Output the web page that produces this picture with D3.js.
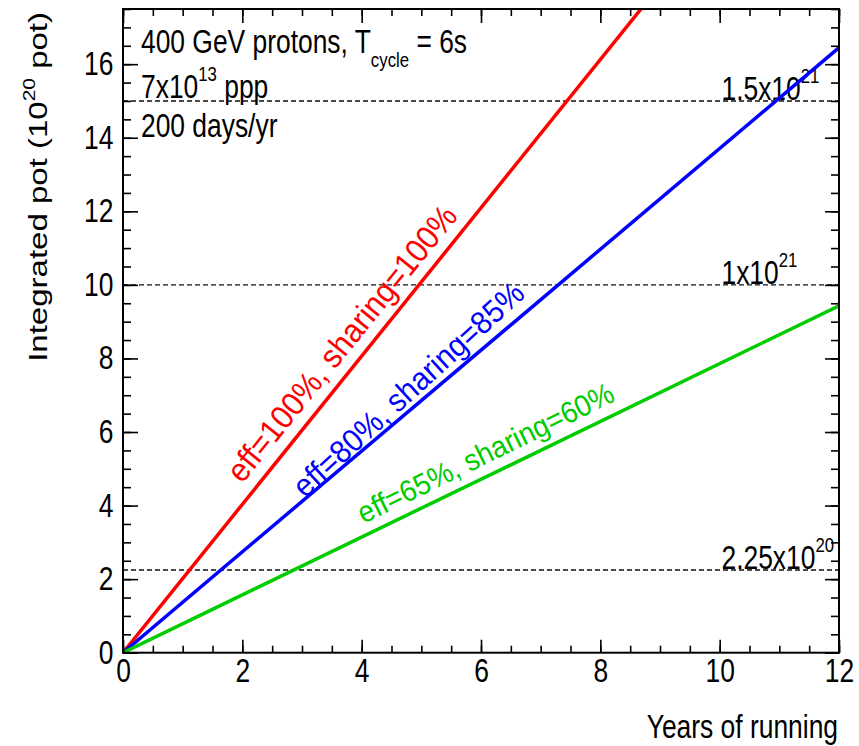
<!DOCTYPE html>
<html>
<head>
<meta charset="utf-8">
<script src="https://cdn.jsdelivr.net/npm/d3@7"></script>
<style>
  html, body { margin: 0; padding: 0; background: #fff; }
  svg { display: block; font-family: "Liberation Sans", Arial, Helvetica, sans-serif; }
</style>
</head>
<body>
<svg id="chart" width="859" height="746"></svg>
<script>
// Integrated protons on target versus years of running
const years      = [0, 12];
const potFull    = [0, 24.19];   // eff=100%, sharing=100%
const potNominal = [0, 16.45];   // eff=80%,  sharing=85%
const potLow     = [0, 9.43];    // eff=65%,  sharing=60%

const seriesNames  = ["eff=100%, sharing=100%", "eff=80%, sharing=85%", "eff=65%, sharing=60%"];
const seriesColors = ["#ff0000", "#0000ff", "#00cc00"];
// where each series label starts (years, pot), its text angle (deg) and size
const labelX     = [2.0, 3.05, 4.03];
const labelY     = [4.58, 4.18, 3.50];
const labelAngle = [51, 42.5, 26];
const labelSize  = [33, 32, 30];

const goalValues = [15, 10, 2.25];
const goalBase   = ["1.5x10", "1x10", "2.25x10"];
const goalExp    = ["21", "21", "20"];

const xMajor = [0, 2, 4, 6, 8, 10, 12];
const yMajor = [0, 2, 4, 6, 8, 10, 12, 14, 16];

const svg = d3.select("#chart");
const pLeft = 123, pRight = 839, pTop = 9, pBottom = 652.7;
const FS = 33, SUB = 21, SX = 0.8;   // font sizes and horizontal squeeze of the lettering

const x = d3.scaleLinear().domain([0, 12]).range([pLeft, pRight]);
const y = d3.scaleLinear().domain([0, 17.5]).range([pBottom, pTop]);

const minorX = d3.range(0, 12.001, 0.5);
const minorY = d3.range(0, 17.501, 0.5);

// clip for the curves
svg.append("clipPath").attr("id", "plot")
  .append("rect").attr("x", pLeft).attr("y", pTop)
  .attr("width", pRight - pLeft).attr("height", pBottom - pTop);

// reference levels
const goals = svg.append("g");
goals.selectAll("line").data(goalValues).join("line")
  .attr("x1", pLeft).attr("x2", pRight)
  .attr("y1", d => y(d)).attr("y2", d => y(d))
  .attr("stroke", "#111").attr("stroke-width", 1.4)
  .attr("stroke-dasharray", "5,3");

goalValues.forEach((v, i) => {
  const g = goals.append("g")
    .attr("transform", `translate(${x(10.03)},${y(v) - 1}) scale(${SX},1)`);
  const t = g.append("text").attr("font-size", FS).attr("fill", "#000");
  t.append("tspan").text(goalBase[i]);
  t.append("tspan").attr("font-size", SUB).attr("dy", -17).text(goalExp[i]);
});

// series lines
const line = d3.line().x(d => x(d[0])).y(d => y(d[1]));
const seriesValues = [potFull, potNominal, potLow];
svg.append("g").attr("clip-path", "url(#plot)")
  .selectAll("path").data(seriesValues).join("path")
  .attr("d", vals => line(years.map((yr, j) => [yr, vals[j]])))
  .attr("fill", "none")
  .attr("stroke", (d, i) => seriesColors[i])
  .attr("stroke-width", 3.5);

// labels along the lines
seriesNames.forEach((name, i) => {
  svg.append("g")
    .attr("transform", `translate(${x(labelX[i])},${y(labelY[i])}) rotate(${-labelAngle[i]}) scale(0.93,1)`)
    .append("text")
    .attr("font-size", labelSize[i])
    .attr("fill", seriesColors[i])
    .text(name);
});

// axes: ticks drawn inward on all four sides
function fmt(d) { return d3.format("d")(d); }

svg.append("g").attr("transform", `translate(0,${pBottom})`)
  .call(d3.axisBottom(x).tickValues(minorX).tickSize(-7).tickFormat(""));
svg.append("g").attr("transform", `translate(0,${pBottom})`)
  .call(d3.axisBottom(x).tickValues(xMajor).tickSize(-13).tickPadding(6).tickFormat(fmt));
svg.append("g").attr("transform", `translate(0,${pTop})`)
  .call(d3.axisTop(x).tickValues(minorX).tickSize(-7).tickFormat(""));
svg.append("g").attr("transform", `translate(0,${pTop})`)
  .call(d3.axisTop(x).tickValues(xMajor).tickSize(-14).tickFormat(""));

svg.append("g").attr("transform", `translate(${pLeft},0)`)
  .call(d3.axisLeft(y).tickValues(minorY).tickSize(-8).tickFormat(""));
svg.append("g").attr("transform", `translate(${pLeft},0)`)
  .call(d3.axisLeft(y).tickValues(yMajor).tickSize(-15).tickPadding(12).tickFormat(fmt));
svg.append("g").attr("transform", `translate(${pRight},0)`)
  .call(d3.axisRight(y).tickValues(minorY).tickSize(-8).tickFormat(""));
svg.append("g").attr("transform", `translate(${pRight},0)`)
  .call(d3.axisRight(y).tickValues(yMajor).tickSize(-14).tickFormat(""));

svg.selectAll(".domain").remove();
svg.selectAll(".tick line").attr("stroke", "#000").attr("stroke-width", 1.6);
svg.selectAll(".tick text")
  .attr("font-size", FS)
  .attr("font-family", "Liberation Sans, Arial, sans-serif")
  .attr("fill", "#000")
  .attr("transform", `scale(${SX},1)`);

// frame
svg.append("rect")
  .attr("x", pLeft).attr("y", pTop)
  .attr("width", pRight - pLeft).attr("height", pBottom - pTop)
  .attr("fill", "none").attr("stroke", "#000").attr("stroke-width", 2);

// axis titles
svg.append("g").attr("transform", `translate(838,738) scale(${SX},1)`)
  .append("text").attr("font-size", FS).attr("text-anchor", "end")
  .text("Years of running");

const yt = svg.append("g").attr("transform", `translate(47,12) rotate(-90) scale(1,${SX})`)
  .append("text").attr("font-size", FS).attr("text-anchor", "end");
yt.append("tspan").text("Integrated pot (10");
yt.append("tspan").attr("font-size", SUB).attr("dy", -15).text("20");
yt.append("tspan").attr("dy", 15).text(" pot)");

// beam conditions
const info = svg.append("g").attr("transform", `translate(141,53) scale(${SX},1)`)
  .attr("font-size", FS);
const l1 = info.append("text");
l1.append("tspan").text("400 GeV protons, T");
l1.append("tspan").attr("font-size", SUB).attr("dy", 14).text("cycle");
l1.append("tspan").attr("dy", -14).text(" = 6s");
const l2 = info.append("text").attr("y", 45);
l2.append("tspan").text("7x10");
l2.append("tspan").attr("font-size", SUB).attr("dy", -17).text("13");
l2.append("tspan").attr("dy", 17).text(" ppp");
info.append("text").attr("y", 84).text("200 days/yr");
</script>
</body>
</html>
